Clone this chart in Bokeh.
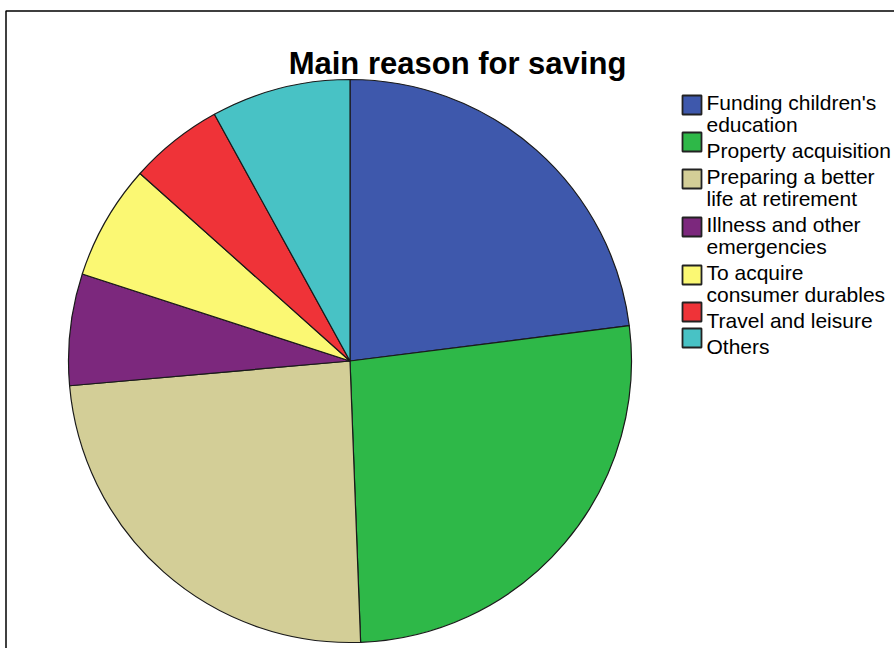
import numpy as np
from bokeh.plotting import figure
from bokeh.models import Range1d, ColumnDataSource
from bokeh.core.properties import value
from bokeh.embed import file_html
from bokeh.resources import INLINE

# ---- data ----
categories = ["Funding children's education", "Property acquisition",
              "Preparing a better life at retirement", "Illness and other emergencies",
              "To acquire consumer durables", "Travel and leisure", "Others"]
legend_labels = ["Funding children's\neducation", "Property acquisition",
                 "Preparing a better\nlife at retirement", "Illness and other\nemergencies",
                 "To acquire\nconsumer durables", "Travel and leisure", "Others"]
percent = [23.0, 26.4, 24.2, 6.4, 6.6, 5.4, 8.0]
colors = ["#3E58AC", "#2EB848", "#D3CE97", "#7C287D", "#FBF873", "#EF3338", "#48C2C5"]
title_text = "Main reason for saving"

# ---- layout (pixel-like coordinates; data y = 648 - screen y) ----
W, H = 894, 648
p = figure(width=W, height=H, output_backend="svg", toolbar_location=None,
           x_range=Range1d(0, W), y_range=Range1d(0, H),
           min_border=0)
p.axis.visible = False
p.grid.visible = False
p.outline_line_color = None
p.background_fill_color = "white"
p.border_fill_color = "white"

def sy(y):
    return H - y

# frame (top and left edges)
p.line([5.5, 5.5, W], [0, sy(10.5), sy(10.5)], line_color="black", line_width=1.5)

# pie
vals = np.array(percent, dtype=float)
frac = vals / vals.sum()
cum_end = np.cumsum(frac)
cum_start = cum_end - frac
start_angle = np.pi / 2 - 2 * np.pi * cum_end
end_angle = np.pi / 2 - 2 * np.pi * cum_start
cx, cy, r = 349.5, sy(360.5), 281.5
src = ColumnDataSource(dict(cat=categories, start=start_angle, end=end_angle, color=colors,
                            x=[cx] * len(vals), y=[cy] * len(vals)))
p.wedge(x="x", y="y", radius=r, start_angle="start", end_angle="end",
        fill_color="color", line_color="#1a1a1a", line_width=1.2, source=src)

# title
p.text(x=[457], y=[sy(63)], text=[title_text], text_font=value("Liberation Sans"),
       text_font_size="31px", text_font_style="bold", text_align="center",
       text_baseline="alphabetic", text_color="black")

# legend (manual)
line_h, gap = 22, 4
b = 102
tx, ty, tt = [], [], []
sq_x, sq_y = [], []
for lab in legend_labels:
    lines = lab.split("\n")
    for k, ln in enumerate(lines):
        tx.append(706)
        ty.append(sy(b + k * line_h))
        tt.append(ln)
    sq_x.append(691.5)
    sq_y.append(sy(b + 11 * (len(lines) - 1) - 8.5))
    b += line_h * len(lines) + gap

p.rect(x=sq_x, y=sq_y, width=19, height=19, fill_color=colors,
       line_color="#222222", line_width=1.8)
p.text(x=tx, y=ty, text=tt, text_font=value("Liberation Sans"), text_font_size="21px",
       text_align="left", text_baseline="alphabetic", text_color="black")

open("out.html", "w").write(file_html(p, INLINE))
